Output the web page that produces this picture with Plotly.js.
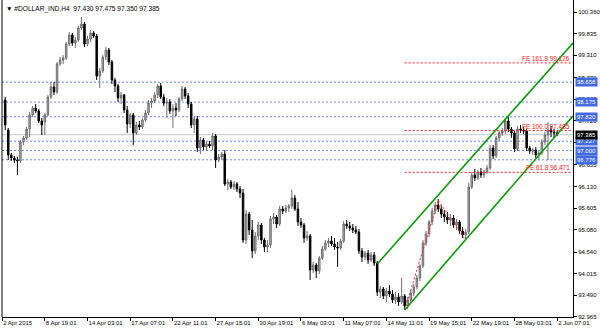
<!DOCTYPE html>
<html><head><meta charset="utf-8">
<script src="https://cdn.plot.ly/plotly-3.0.1.min.js"></script>
<style>html,body{margin:0;padding:0;background:#fff}#chart{width:600px;height:333px}</style>
</head><body><div id="chart"></div>
<script>
const symbolTitle = "\u25BC #DOLLAR_IND,H4  97.430 97.475 97.350 97.385";

const openP = [98.226,97.499,96.893,96.820,96.771,96.747,97.208,97.305,97.523,97.863,98.032,97.960,97.717,97.693,97.863,98.299,98.542,98.420,99.100,99.196,
99.245,99.584,99.803,99.608,99.681,99.972,100.069,99.584,99.705,99.851,99.778,98.808,98.930,99.269,99.439,99.148,98.711,98.566,98.275,98.347,
97.984,97.644,97.863,97.426,97.620,97.572,97.741,97.911,98.153,98.202,98.347,98.566,98.299,98.153,98.178,97.960,98.032,97.984,98.250,98.493,
98.323,98.129,97.620,97.766,97.062,97.256,97.087,97.159,97.111,97.353,96.771,96.844,96.917,96.189,96.238,96.117,96.189,96.068,95.971,94.831,
95.462,95.074,94.565,94.929,95.195,94.831,94.662,94.710,95.341,95.389,95.220,95.583,95.535,95.607,95.656,95.850,95.583,95.268,95.195,94.880,
94.929,94.104,94.225,94.080,94.395,94.613,94.759,94.807,94.734,94.662,94.637,94.807,95.220,95.171,95.123,95.074,95.025,94.565,94.419,94.516,
94.346,94.468,94.274,93.571,93.643,93.474,93.595,93.522,93.377,93.450,93.328,93.474,93.231,93.377,93.546,93.692,93.910,94.201,94.759,94.977,
95.268,95.535,95.680,95.583,95.462,95.389,95.316,95.365,95.195,95.268,95.050,94.953,95.025,96.117,96.408,96.335,96.480,96.408,96.480,96.577,
97.062,96.869,97.305,97.426,97.474,97.717,97.523,97.426,97.038,97.523,97.499,97.474,97.062,96.990,97.014,96.893,96.941,97.208,97.378,97.499,
97.450,97.430];
const highP = [98.299,97.548,96.941,96.869,96.844,97.256,97.353,97.572,97.936,98.081,98.129,98.008,97.790,97.911,98.347,98.663,98.663,99.148,99.269,99.318,
99.633,99.876,99.851,99.754,100.021,100.239,100.118,99.778,99.924,99.900,99.827,99.002,99.318,99.511,99.487,99.196,98.760,98.614,98.420,98.372,
98.081,97.911,97.911,97.693,97.717,97.790,97.984,98.226,98.275,98.420,98.614,98.638,98.372,98.275,98.250,98.129,98.153,98.299,98.566,98.542,
98.396,98.178,97.838,97.838,97.329,97.305,97.208,97.232,97.426,97.402,96.917,96.965,97.014,96.310,96.286,96.262,96.238,96.141,96.068,95.559,
95.510,95.316,95.025,95.268,95.244,94.880,94.831,95.413,95.486,95.437,95.656,95.656,95.680,95.704,96.044,95.922,95.753,95.365,95.244,95.050,
94.977,94.298,94.274,94.443,94.686,94.831,94.880,94.929,94.880,94.783,94.856,95.292,95.316,95.268,95.220,95.171,95.098,94.637,94.565,94.589,
94.540,94.540,94.322,93.716,93.692,93.668,93.740,93.619,93.571,93.546,93.910,93.522,93.450,93.619,93.765,93.983,94.250,94.831,95.050,95.316,
95.607,95.753,95.825,95.680,95.559,95.510,95.462,95.437,95.341,95.316,95.147,95.098,96.213,96.480,96.553,96.529,96.577,96.529,96.650,97.135,
97.135,97.353,97.474,97.547,97.790,97.838,97.572,97.474,97.596,97.620,97.572,97.523,97.111,97.062,97.087,96.990,97.281,97.450,97.693,97.596,
97.523,97.475];
const lowP = [97.499,96.771,96.747,96.698,96.408,96.698,97.135,97.256,97.329,97.814,97.911,97.668,97.378,97.378,97.838,98.250,98.347,98.372,99.051,99.100,
99.196,99.536,99.536,99.487,99.633,99.924,99.511,99.536,99.633,99.730,98.711,98.517,98.881,99.196,99.075,98.614,98.420,98.178,98.129,97.911,
97.426,97.547,97.135,97.378,97.499,97.523,97.693,97.863,98.032,98.153,98.275,98.250,98.081,97.790,97.887,97.547,97.838,97.936,98.202,98.250,
98.032,97.547,97.426,96.965,96.917,97.014,96.990,97.062,97.014,96.577,96.723,96.771,96.141,96.044,96.068,96.044,95.995,95.850,94.759,94.734,
94.953,94.395,94.492,94.831,94.734,94.540,94.540,94.637,95.220,95.123,95.171,95.462,95.486,95.510,95.583,95.535,95.171,95.123,94.759,94.807,
93.862,94.031,93.910,94.007,94.346,94.565,94.662,94.686,94.589,94.177,94.589,94.759,95.098,95.050,95.001,94.977,94.492,94.298,94.346,94.250,
94.298,94.201,93.474,93.425,93.401,93.328,93.450,93.304,93.280,93.231,93.280,93.134,93.159,93.304,93.474,93.643,93.837,94.153,94.686,94.904,
95.195,95.462,95.510,95.365,95.268,95.220,95.171,95.123,95.074,94.977,94.880,94.831,94.977,96.068,96.262,96.286,96.335,96.335,96.432,96.529,
96.796,96.820,97.232,97.353,97.402,97.450,97.305,96.965,96.990,97.426,97.402,96.990,96.917,96.893,96.820,96.771,96.893,97.135,96.771,97.329,
97.305,97.350];
const closeP = [97.620,96.892,96.820,96.771,96.747,97.208,97.305,97.523,97.863,98.032,97.960,97.717,97.620,97.863,98.299,98.542,98.420,99.100,99.196,99.245,
99.584,99.803,99.608,99.681,99.972,100.069,99.584,99.705,99.851,99.778,98.808,98.930,99.269,99.439,99.148,98.711,98.566,98.275,98.347,97.984,
97.644,97.863,97.426,97.620,97.572,97.741,97.911,98.153,98.202,98.347,98.566,98.299,98.153,98.178,97.960,98.032,97.984,98.250,98.493,98.323,
98.129,97.620,97.766,97.062,97.256,97.087,97.159,97.111,97.353,96.771,96.844,96.917,96.189,96.238,96.117,96.189,96.068,95.971,94.831,95.462,
95.074,94.565,94.929,95.195,94.831,94.662,94.710,95.341,95.389,95.220,95.583,95.535,95.607,95.656,95.850,95.583,95.268,95.195,94.880,94.929,
94.104,94.225,94.080,94.395,94.613,94.759,94.807,94.734,94.662,94.637,94.807,95.220,95.171,95.123,95.074,95.025,94.565,94.419,94.516,94.346,
94.468,94.274,93.571,93.643,93.474,93.595,93.522,93.377,93.450,93.328,93.474,93.231,93.377,93.546,93.692,93.910,94.201,94.759,94.977,95.268,
95.535,95.680,95.583,95.462,95.389,95.316,95.365,95.195,95.268,95.050,94.953,95.025,96.117,96.408,96.335,96.480,96.408,96.480,96.577,97.062,
96.869,97.305,97.426,97.474,97.717,97.523,97.426,97.038,97.523,97.499,97.474,97.062,96.990,97.014,96.893,96.941,97.208,97.378,97.499,97.450,
97.426,97.385];

const xTickLabels = ["2 Apr 2015","8 Apr 19:01","14 Apr 03:01","17 Apr 07:01","22 Apr 11:01","27 Apr 15:01","30 Apr 19:01",
  "6 May 03:01","11 May 07:01","14 May 11:01","19 May 15:01","22 May 19:01","28 May 03:01","2 Jun 07:01"];
const barsPerTick = 14;
const yTickVals = [100.360,99.835,99.310,98.770,98.245,97.720,97.195,96.655,96.130,95.605,95.080,94.540,94.015,93.490,92.965];

const levelPrices = [98.658,98.175,97.820,97.227,97.000,96.776];
const lastPrice = 97.385;

const feRatios = ["161.8","100.0","61.8"];
const feValues = [99.126,97.485,96.471];
const fePointBars = [132,143,152];
const fePointPrices = [93.134,95.788,94.831];

const upperChannelBars = [123,166];
const upperChannelPrices = [94.25,97.84];
const lowerChannelBars = [132,175];
const lowerChannelPrices = [93.134,96.80];

const barIndex = openP.map((_, k) => k + 1);
const xRange = [-0.05, 187.2];
const yRange = [92.964, 100.651];
const FONT = "Liberation Sans, Arial, sans-serif";
const FS = 6;

const trace = {
  type: 'candlestick', x: barIndex, open: openP, high: highP, low: lowP, close: closeP,
  increasing: {line: {color: '#6e6e6e', width: 1}, fillcolor: '#b4b4b4'},
  decreasing: {line: {color: '#000000', width: 1}, fillcolor: '#000000'},
  whiskerwidth: 0, hoverinfo: 'skip', showlegend: false
};

const shapes = [];
shapes.push({type:'line', xref:'paper', yref:'paper', x0:0, x1:0, y0:0, y1:1, line:{color:'#000', width:1}});
levelPrices.forEach(p => shapes.push({type:'line', layer:'below', xref:'paper', yref:'y', x0:0, x1:1, y0:p, y1:p,
  line:{color:'#6a88ea', width:1, dash:'2px,2px'}}));
shapes.push({type:'line', layer:'below', xref:'paper', yref:'y', x0:0, x1:1, y0:lastPrice, y1:lastPrice,
  line:{color:'#c4c4c4', width:1}});
feValues.forEach(v => shapes.push({type:'line', xref:'x', yref:'y', x0:fePointBars[0], x1:xRange[1], y0:v, y1:v,
  line:{color:'#ff2020', width:1, dash:'2px,2px'}}));
for (let k = 0; k < fePointBars.length - 1; k++) {
  shapes.push({type:'line', xref:'x', yref:'y', x0:fePointBars[k], y0:fePointPrices[k], x1:fePointBars[k+1], y1:fePointPrices[k+1],
    line:{color:'#ff2020', width:1, dash:'2px,2px'}});
}
function ray(bars, prices) {
  const slope = (prices[1] - prices[0]) / (bars[1] - bars[0]);
  return {type:'line', xref:'x', yref:'y', x0:bars[0], y0:prices[0], x1:xRange[1], y1:prices[0] + slope * (xRange[1] - bars[0]),
    line:{color:'#0c9a0c', width:1.6}};
}
shapes.push(ray(upperChannelBars, upperChannelPrices));
shapes.push(ray(lowerChannelBars, lowerChannelPrices));

const annotations = [];
annotations.push({xref:'paper', yref:'paper', x:0, y:1, xanchor:'left', yanchor:'top', xshift:2, yshift:-3,
  text: symbolTitle, showarrow:false, font:{family:FONT, size:6.6, color:'#000'}});
levelPrices.forEach(p => annotations.push({xref:'paper', yref:'y', x:1, y:p, xanchor:'left', yanchor:'middle', xshift:2,
  text: p.toFixed(3), showarrow:false, bgcolor:'#4169e1', borderpad:1, font:{family:FONT, size:FS, color:'#fff'}}));
annotations.push({xref:'paper', yref:'y', x:1, y:lastPrice, xanchor:'left', yanchor:'middle', xshift:2,
  text: lastPrice.toFixed(3), showarrow:false, bgcolor:'#000', borderpad:1, font:{family:FONT, size:FS, color:'#fff'}});
feValues.forEach((v, k) => annotations.push({xref:'paper', yref:'y', x:1, y:v, xanchor:'right', yanchor:'bottom', xshift:-1, yshift:-1,
  text: 'FE ' + feRatios[k] + ' ' + v.toFixed(3), showarrow:false, font:{family:FONT, size:6.4, color:'#ff2020'}}));

const layout = {
  width: 600, height: 333,
  margin: {l:2, r:27, t:0, b:16},
  paper_bgcolor:'#fff', plot_bgcolor:'#fff',
  showlegend:false,
  xaxis: {range: xRange, rangeslider:{visible:false}, tickvals: xTickLabels.map((_, k) => k * barsPerTick), ticktext: xTickLabels,
    tickangle:0, ticks:'outside', ticklen:3, tickcolor:'#000', ticklabelposition:'outside right', showline:true, linecolor:'#000', linewidth:1,
    showgrid:false, zeroline:false, tickfont:{family:FONT, size:FS, color:'#000'}, fixedrange:true, automargin:false},
  yaxis: {range: yRange, side:'right', tickvals: yTickVals, ticktext: yTickVals.map(v => v.toFixed(3)),
    ticks:'outside', ticklen:3, tickcolor:'#000', showline:true, linecolor:'#000', linewidth:1, showgrid:false, zeroline:false,
    tickfont:{family:FONT, size:FS, color:'#000'}, fixedrange:true, automargin:false},
  shapes, annotations
};
Plotly.newPlot('chart', [trace], layout, {staticPlot:true, displayModeBar:false});
</script></body></html>
